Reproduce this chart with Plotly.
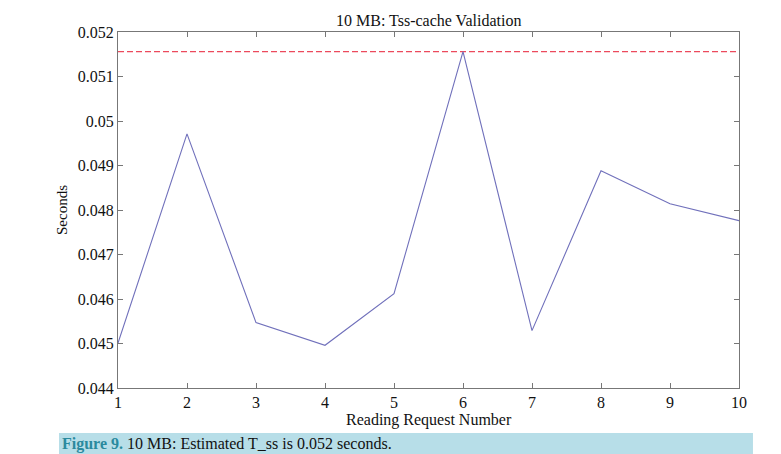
import plotly.graph_objects as go

requests = [1, 2, 3, 4, 5, 6, 7, 8, 9, 10]
seconds = [0.04501, 0.04971, 0.04547, 0.04496, 0.04612, 0.05156, 0.04529, 0.04888, 0.04814, 0.04776]
tss_estimate = 0.05156
y_ticks = [0.044, 0.045, 0.046, 0.047, 0.048, 0.049, 0.05, 0.051, 0.052]
y_tick_labels = ["0.044", "0.045", "0.046", "0.047", "0.048", "0.049", "0.05", "0.051", "0.052"]

FONT = '"Liberation Serif", "Times New Roman", Times, serif'

fig = go.Figure()
fig.add_trace(go.Scatter(x=[1, 10], y=[tss_estimate, tss_estimate], mode="lines",
                         line=dict(color="#ec4a5c", width=1.1, dash="6px,3px"), showlegend=False))
fig.add_trace(go.Scatter(x=requests, y=seconds, mode="lines",
                         line=dict(color="#7070bb", width=1.1), showlegend=False))

fig.update_layout(
    width=781, height=454,
    margin=dict(l=118, r=42, t=32, b=66),
    paper_bgcolor="white", plot_bgcolor="white",
    font=dict(family=FONT, size=16, color="#111"),
    xaxis=dict(range=[1, 10], tickvals=requests, ticks="inside", ticklen=5,
               tickcolor="#777", showline=True, linecolor="#777", linewidth=1,
               mirror="ticks", showgrid=False, zeroline=False,
               tickfont=dict(family=FONT, size=16)),
    yaxis=dict(range=[0.044, 0.052], tickvals=y_ticks, ticktext=y_tick_labels,
               ticks="inside", ticklen=5, tickcolor="#777", showline=True,
               linecolor="#777", linewidth=1, mirror="ticks", showgrid=False,
               zeroline=False, tickfont=dict(family=FONT, size=16)),
    annotations=[
        dict(text="10 MB: Tss-cache Validation", xref="paper", yref="paper",
             x=0.5, y=1.0, yshift=12, xanchor="center", yanchor="middle",
             showarrow=False, font=dict(family=FONT, size=16)),
        dict(text="Reading Request Number", xref="paper", yref="paper",
             x=0.5, y=0, yshift=-32, xanchor="center", yanchor="middle",
             showarrow=False, font=dict(family=FONT, size=16)),
        dict(text="Seconds", xref="paper", yref="paper", textangle=-90,
             x=0, xshift=-56, y=0.5, xanchor="center", yanchor="middle",
             showarrow=False, font=dict(family=FONT, size=15)),
        dict(text="<span style='color:#2a8a9e'><b>Figure 9.</b></span> 10 MB: Estimated T_ss is 0.052 seconds.",
             xref="paper", yref="paper", x=-0.093, y=-0.156, xanchor="left",
             yanchor="middle", showarrow=False, font=dict(family=FONT, size=16, color="#111")),
    ],
    shapes=[
        dict(type="rect", xref="paper", yref="paper", x0=-0.095, x1=1.0225,
             y0=-0.1264, y1=-0.19, fillcolor="#b7dee8", line=dict(width=0), layer="below"),
    ],
)

fig.write_html("out.html")
